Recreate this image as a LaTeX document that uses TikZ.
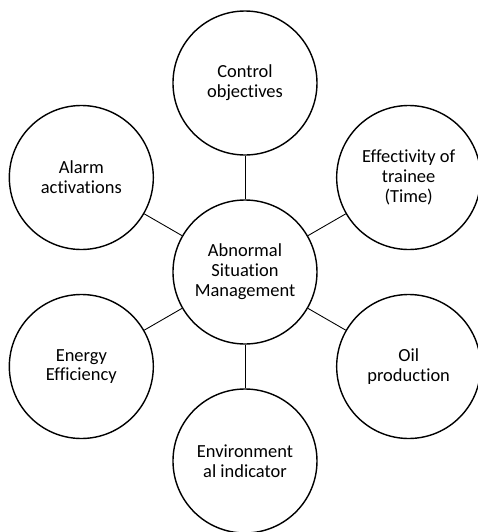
\documentclass[tikz,border=0pt]{standalone}
\usepackage{fontspec}
\setmainfont{Carlito}[Ligatures={NoCommon}]
\usepackage{tikz}
\usetikzlibrary{positioning}

\begin{document}
\begin{tikzpicture}[x=1cm, y=1cm,
  font=\fontsize{10.5}{11.3}\selectfont,
  topic/.style={circle, draw, line width=0.8pt, minimum size=2.88cm,
    inner sep=0pt, align=center},
  link/.style={line width=0.5pt}]
\useasboundingbox (-4.9,-5.2) rectangle (4.66,5.44);
% Hub
\node[topic] (asm) at (0,0) {Abnormal\\Situation\\Management};
% Indicators around the hub
\node[topic] (ctrl) at (90:3.78) {Control\\objectives};
\node[topic] (eff) at (30:3.78) {Effectivity of\\trainee\\(Time)};
\node[topic] (oil) at (-30:3.78) {Oil\\production};
\node[topic] (env) at (-90:3.78) {Environment\\al indicator};
\node[topic] (energy) at (210:3.78) {Energy\\Efficiency};
\node[topic] (alarm) at (150:3.78) {Alarm\\activations};
% Spokes
\draw[link] (asm) -- (ctrl);
\draw[link] (asm) -- (eff);
\draw[link] (asm) -- (oil);
\draw[link] (asm) -- (env);
\draw[link] (asm) -- (energy);
\draw[link] (asm) -- (alarm);
\end{tikzpicture}
\end{document}
